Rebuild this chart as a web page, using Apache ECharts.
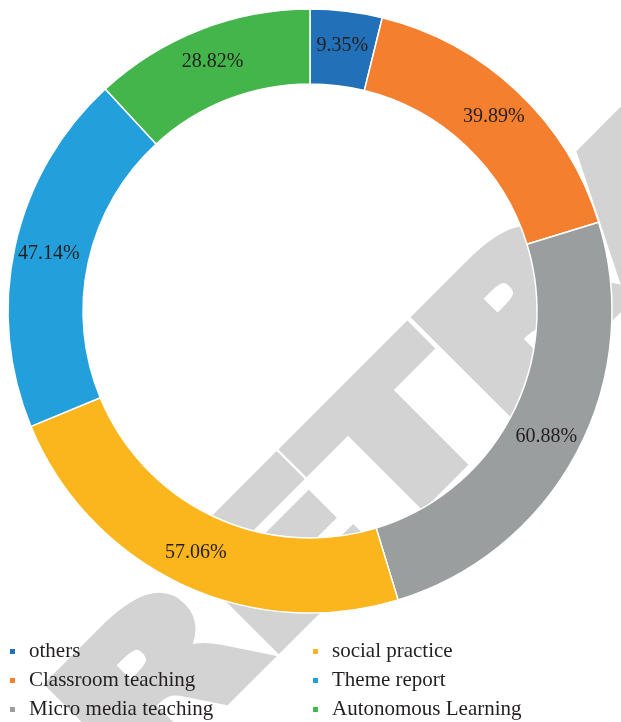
<!DOCTYPE html>
<html>
<head>
<meta charset="utf-8">
<script src="https://cdn.jsdelivr.net/npm/echarts@6/dist/echarts.min.js"></script>
<style>
  html, body { margin: 0; padding: 0; background: #fff; }
  #chart { width: 621px; height: 722px; }
</style>
</head>
<body>
<div id="chart"></div>
<script>
const categories = ['others', 'Classroom teaching', 'Micro media teaching', 'social practice', 'Theme report', 'Autonomous Learning'];
const values = [9.35, 39.89, 60.88, 57.06, 47.14, 28.82];
const colors = ['#2170b8', '#f47f2e', '#9b9e9f', '#fbb51d', '#239fdb', '#43b54a'];
const watermark = 'RETRACTED';

const chart = echarts.init(document.getElementById('chart'));

// legend: two columns of three rows, one small legend per entry
const legends = categories.map((name, i) => ({
  left: i < 3 ? 8 : 311,
  top: 641 + (i % 3) * 29,
  padding: 0,
  orient: 'horizontal',
  icon: 'rect',
  itemWidth: 7,
  itemHeight: 7,
  data: [name],
  textStyle: {
    color: '#231f20',
    fontSize: 21,
    lineHeight: 21,
    fontFamily: 'Liberation Serif',
    padding: [0, 0, 0, 8]
  }
}));

const option = {
  animation: false,
  color: colors,
  graphic: [
    {
      type: 'text',
      x: 667,
      y: 190,
      rotation: Math.PI / 4,
      scaleX: 1.35,
      silent: true,
      z: -10,
      style: {
        text: watermark,
        fontFamily: 'DejaVu Sans',
        fontWeight: 'bold',
        fontSize: 180,
        fill: '#d3d3d3',
        stroke: '#d3d3d3',
        lineWidth: 14,
        align: 'center',
        verticalAlign: 'middle'
      }
    }
  ],
  legend: legends,
  series: [
    {
      type: 'pie',
      center: [310, 311],
      radius: [227, 302],
      startAngle: 90,
      clockwise: true,
      itemStyle: {
        borderColor: '#fff',
        borderWidth: 1.5
      },
      label: {
        show: true,
        position: 'inside',
        formatter: '{c}%',
        color: '#231f20',
        fontSize: 20,
        fontFamily: 'Liberation Serif'
      },
      labelLine: { show: false },
      emphasis: { disabled: true },
      data: categories.map((name, i) => ({ name: name, value: values[i] }))
    }
  ]
};

chart.setOption(option);
</script>
</body>
</html>
